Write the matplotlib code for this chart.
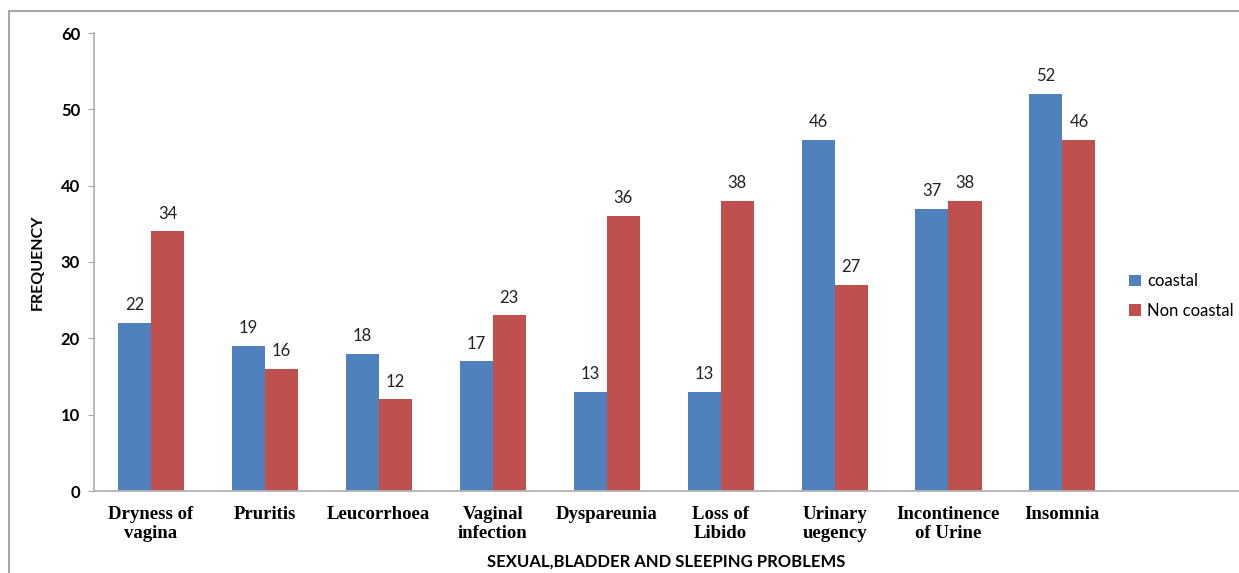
import numpy as np
import matplotlib.pyplot as plt
from matplotlib.patches import Rectangle

# --- data ---
categories = ["Dryness of\nvagina", "Pruritis", "Leucorrhoea", "Vaginal\ninfection",
              "Dyspareunia", "Loss of\nLibido", "Urinary\nuegency",
              "Incontinence\nof Urine", "Insomnia"]
coastal = [22, 19, 18, 17, 13, 13, 46, 37, 52]
non_coastal = [34, 16, 12, 23, 36, 38, 27, 38, 46]
series_names = ["coastal", "Non coastal"]

blue = "#4F81BD"
red = "#C0504D"

fig = plt.figure(figsize=(12.39, 5.73), dpi=100)
ax = fig.add_axes([94 / 1239, 1 - 491 / 573, 1 - 94 / 1239, (491 - 33) / 573])

# outer chart frame
fig.patches.append(Rectangle((9 / 1239, -0.1), 1.2, 1 - 11 / 573 + 0.1,
                             transform=fig.transFigure, fill=False,
                             edgecolor="#a6a6a6", linewidth=1.5))

x = np.arange(len(categories))
w = 0.29
b1 = ax.bar(x - w / 2, coastal, w, color=blue, label=series_names[0])
b2 = ax.bar(x + w / 2, non_coastal, w, color=red, label=series_names[1])

for bars in (b1, b2):
    for rect in bars:
        ax.annotate(f"{int(rect.get_height())}",
                    (rect.get_x() + rect.get_width() / 2, rect.get_height()),
                    xytext=(0, 7), textcoords="offset points",
                    ha="center", va="bottom", fontsize=12, family="Lato",
                    color="#222222")

ax.set_ylim(0, 60)
ax.set_yticks(range(0, 61, 10))
ax.set_xlim(-0.5, len(categories) + 0.55)
ax.set_xticks(x)
ax.set_xticklabels(categories, family="Liberation Serif", fontweight="bold",
                   fontsize=13.5, linespacing=1.1)
ax.tick_params(axis="x", length=0, pad=11)
ax.tick_params(axis="y", length=4, color="#a6a6a6", pad=6)
for lbl in ax.get_yticklabels():
    lbl.set_fontweight("bold")
    lbl.set_family("Lato")
    lbl.set_fontsize(12)

for s in ("top", "right"):
    ax.spines[s].set_visible(False)
for s in ("left", "bottom"):
    ax.spines[s].set_color("#b3b3b3")
    ax.spines[s].set_linewidth(1.3)

ax.set_ylabel("FREQUENCY", family="Lato", fontweight="bold", fontsize=11.5)
ax.yaxis.set_label_coords((45 - 94) / (1239 - 94), 0.5)
ax.set_xlabel("SEXUAL,BLADDER AND SLEEPING PROBLEMS", family="Lato",
              fontweight="bold", fontsize=12)
ax.xaxis.set_label_coords(0.5, (491 - 562) / (491 - 33))
ax.xaxis.label.set_va("center")

leg = ax.legend(loc="center left", bbox_to_anchor=(1114 / 1239, 1 - 296 / 573),
                bbox_transform=fig.transFigure, frameon=False,
                prop={"family": "Lato", "size": 12},
                handlelength=0.7, handleheight=0.7, handletextpad=0.4,
                labelspacing=0.8)

fig.savefig("out.png", dpi=100)
